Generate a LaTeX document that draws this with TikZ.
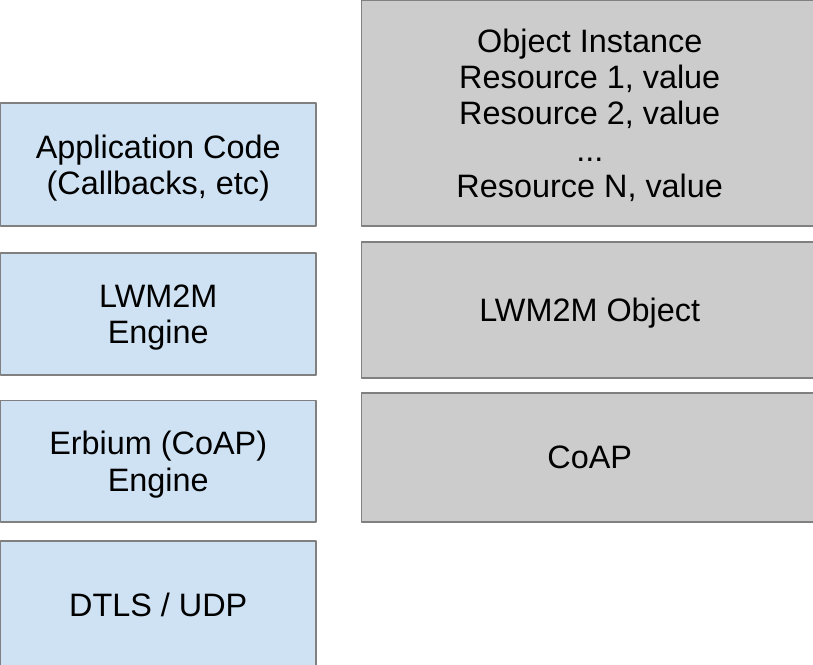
\documentclass[tikz,border=0pt]{standalone}
\usepackage{fontspec}
\setmainfont{Liberation Sans}
\definecolor{layerblue}{HTML}{CFE2F3}
\definecolor{objgray}{HTML}{CCCCCC}
\definecolor{edgegray}{HTML}{808080}
\begin{document}
\begin{tikzpicture}[x=1pt, y=-1pt, font=\fontsize{32.4}{36.2}\selectfont, line join=round,
	layer/.style={draw=edgegray, fill=layerblue, line width=1.3pt, align=center, inner sep=0pt, text depth=0pt, minimum width=315.5pt},
	objbox/.style={draw=edgegray, fill=objgray, line width=1.3pt, align=center, inner sep=0pt, text depth=0pt, minimum width=456.5pt}]
			\useasboundingbox (0,0) rectangle (813,664);
			\clip (0,0) rectangle (813,664);
			% client stack
			\node[layer, minimum height=123pt] (app) at (158.25,164.5) {Application Code\\(Callbacks, etc)};
			\node[layer, minimum height=122pt] (engine) at (158.25,314) {LWM2M\\Engine};
			\node[layer, minimum height=121.5pt] (erbium) at (158.25,461.25) {Erbium (CoAP)\\Engine};
			\node[layer, minimum height=127pt] (dtls) at (158.25,604.5) {DTLS / UDP};
			% object model
			\node[objbox, minimum height=225.5pt] (inst) at (589.75,113.25) {Object Instance\\Resource 1, value\\Resource 2, value\\...\\Resource N, value};
			\node[objbox, minimum height=136pt] (obj) at (589.75,310) {LWM2M Object};
			\node[objbox, minimum height=129pt] (coap) at (589.75,457.5) {CoAP};
		\end{tikzpicture}
\end{document}
